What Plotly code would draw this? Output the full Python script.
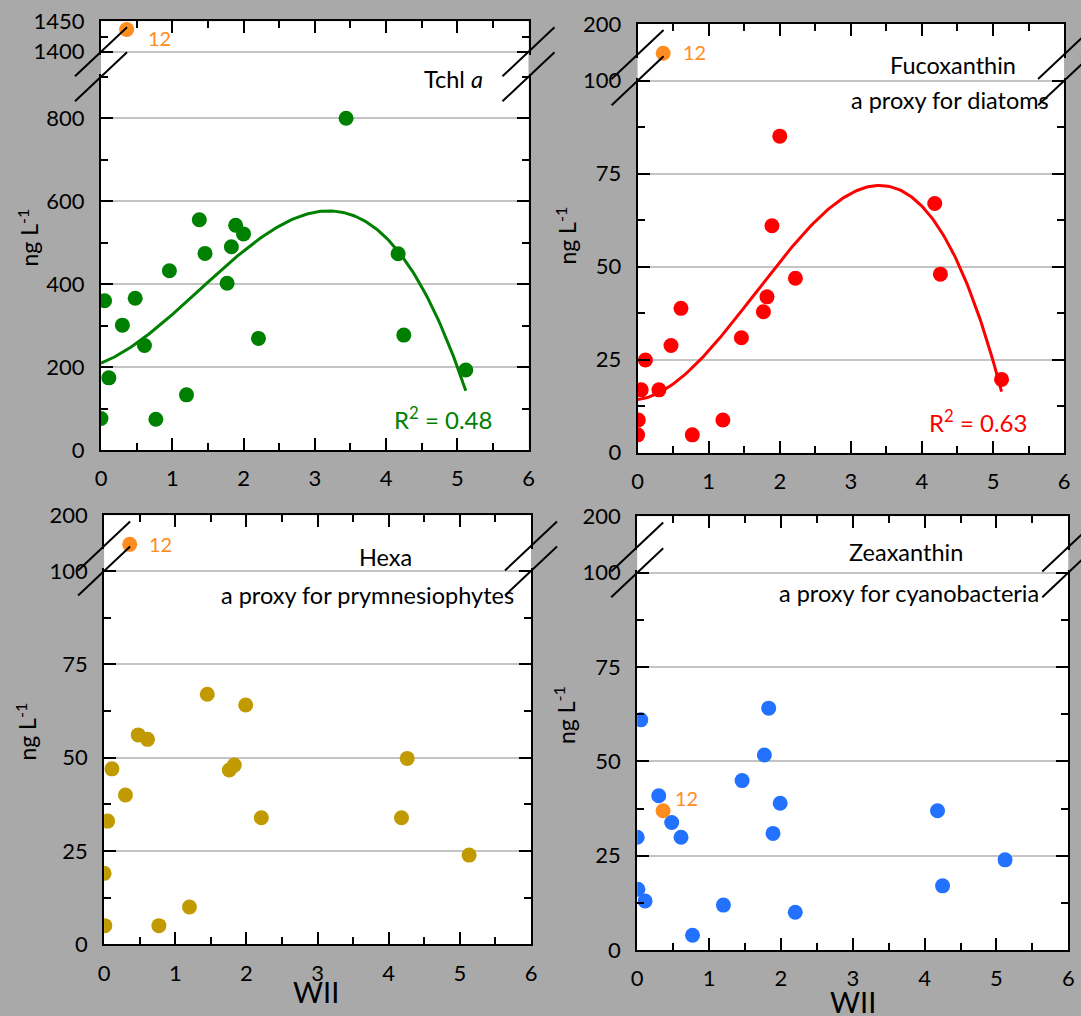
import numpy as np
import plotly.graph_objects as go

W, H = 1081, 1016
FONT = "Lato"
GRAY = "#a9a9a9"
GRID = "#c4c4c4"

GREEN = "#008000"
RED = "#ff0000"
GOLD = "#c09a00"
BLUE = "#2272ff"
ORANGE = "#ff8c1f"

# ---- pigment concentrations (ng/L) against WII ----
tchl_wii = [0.00, 0.05, 0.11, 0.30, 0.48, 0.61, 0.77, 0.96, 1.20, 1.38,
            1.46, 1.77, 1.83, 1.89, 2.00, 2.21, 3.44, 4.17, 4.25, 5.12]
tchl_val = [76, 360, 174, 301, 366, 252, 74, 432, 133, 555,
            474, 402, 490, 542, 521, 269, 800, 473, 277, 193]

fuco_wii = [0.00, 0.01, 0.05, 0.11, 0.30, 0.47, 0.61, 0.77, 1.20, 1.46,
            1.77, 1.82, 1.89, 2.00, 2.22, 4.18, 4.26, 5.12]
fuco_val = [4.8, 8.8, 16.9, 24.9, 16.9, 28.8, 38.8, 4.8, 8.8, 30.9,
            37.9, 41.9, 61.0, 85.1, 46.9, 67.0, 48.0, 19.7]

hexa_wii = [0.00, 0.01, 0.05, 0.11, 0.30, 0.48, 0.61, 0.77, 1.20, 1.45,
            1.76, 1.83, 1.99, 2.21, 4.18, 4.26, 5.13]
hexa_val = [19.0, 5.0, 33.0, 47.0, 40.0, 56.1, 54.9, 5.0, 10.0, 67.0,
            46.7, 48.0, 64.1, 33.9, 33.9, 49.8, 23.9]

zea_wii = [0.00, 0.01, 0.05, 0.11, 0.30, 0.48, 0.61, 0.77, 1.20, 1.46,
           1.77, 1.83, 1.89, 1.99, 2.20, 4.18, 4.25, 5.12]
zea_val = [29.9, 16.1, 61.0, 13.0, 40.9, 33.8, 29.9, 3.9, 11.9, 44.9,
           51.7, 64.1, 30.9, 38.9, 10.0, 36.9, 17.0, 23.9]

# station 12, highlighted separately
st12_wii = 0.36
st12_tchl = 1437
st12_fuco = 104
st12_hexa = 105.5
st12_zea = 36.9

x_ticks = [0, 1, 2, 3, 4, 5, 6]


def fx(p):
    return p / W


def fy(p):
    return 1 - p / H


# panel frames in pixels: left, right, top, bottom of upper segment,
# top of lower segment, bottom
panels = [
    dict(wii=tchl_wii, val=tchl_val, color=GREEN,
         st12=st12_tchl, st12_upper=True, lbl_shift=(19, -8.7),
         x0=101, x1=528.5, top=21.7, ub=51.7, lt=76.7, bot=450,
         low_range=[0, 900], low_dtick=200, low_minor=100,
         up_range=[1400, 1450], up_ticks=[1400, 1450], up_minor=[1425], up_grid=True,
         fit=True, r2="R<sup>2</sup> = 0.48", r2_pos=(494.4, 435.5),
         title=["Tchl <i>a</i>"], title_pos=[(485, 79, "right")],
         ylab=(28, 237.5), xlab=None),
    dict(wii=fuco_wii, val=fuco_val, color=RED,
         st12=st12_fuco, st12_upper=True, lbl_shift=(17.6, 0.8),
         x0=637.6, x1=1064.1, top=24, ub=54.5, lt=80.7, bot=452.7,
         low_range=[0, 100], low_dtick=25, low_minor=12.5,
         up_range=[100, 200], up_ticks=[200], up_minor=[], up_grid=False,
         fit=True, r2="R<sup>2</sup> = 0.63", r2_pos=(1029, 438.8),
         title=["Fucoxanthin", "a proxy for diatoms"],
         title_pos=[(953, 65, "center"), (950, 100, "center")],
         ylab=(565.6, 236), xlab=None),
    dict(wii=hexa_wii, val=hexa_val, color=GOLD,
         st12=st12_hexa, st12_upper=True, lbl_shift=(17, 0.3),
         x0=104.1, x1=531, top=515.7, ub=546, lt=571, bot=944.3,
         low_range=[0, 100], low_dtick=25, low_minor=12.5,
         up_range=[100, 200], up_ticks=[200], up_minor=[], up_grid=False,
         fit=False,
         title=["Hexa", "a proxy for prymnesiophytes"],
         title_pos=[(385, 556.7, "center"), (367, 594.8, "center")],
         ylab=(25.6, 732), xlab=(316, 991.7)),
    dict(wii=zea_wii, val=zea_val, color=BLUE,
         st12=st12_zea, st12_upper=False, lbl_shift=(9.7, 12.7),
         x0=637.2, x1=1068.3, top=516.7, ub=547, lt=572.7, bot=950,
         low_range=[0, 100], low_dtick=25, low_minor=12.5,
         up_range=[100, 200], up_ticks=[200], up_minor=[], up_grid=False,
         fit=False,
         title=["Zeaxanthin", "a proxy for cyanobacteria"],
         title_pos=[(905.5, 551.7, "center"), (908.6, 592.5, "center")],
         ylab=(564, 715), xlab=(853, 1001)),
]

EXT = 3  # px of extra axis range so the edge gridlines are kept

fig = go.Figure()
layout = dict(
    width=W, height=H,
    margin=dict(l=0, r=0, t=0, b=0, autoexpand=False),
    paper_bgcolor=GRAY, plot_bgcolor="white",
    showlegend=False,
    font=dict(family=FONT, size=22, color="black"),
)
shapes = []
annotations = []

axis_common = dict(
    showline=True, linecolor="black", linewidth=2,
    ticks="inside", ticklen=12, tickwidth=2, tickcolor="black",
    zeroline=False, automargin=False,
    tickfont=dict(family=FONT, size=22, color="black"),
)
minor_common = dict(ticks="inside", ticklen=7, tickwidth=2, tickcolor="black", showgrid=False)

for i, p in enumerate(panels):
    nl = 2 * i + 1
    nu = 2 * i + 2
    xl = "x" if nl == 1 else f"x{nl}"
    yl = "y" if nl == 1 else f"y{nl}"
    xu, yu = f"x{nu}", f"y{nu}"
    xdom = [fx(p["x0"]), fx(p["x1"])]

    lo0, lo1 = p["low_range"]
    low_ppu = (p["bot"] - p["lt"]) / (lo1 - lo0)
    up0, up1 = p["up_range"]
    up_ppu = (p["ub"] - p["top"]) / (up1 - up0)

    # bottom x axis (with labels) anchored to the lower segment
    layout["xaxis" if nl == 1 else f"xaxis{nl}"] = dict(
        axis_common, domain=xdom, anchor=yl, range=[0, 6],
        tickmode="array", tickvals=x_ticks, ticktext=[str(v) for v in x_ticks],
        minor=dict(minor_common, tickmode="linear", tick0=0, dtick=0.5),
        showgrid=False, mirror=False, ticklabelstandoff=8,
    )
    # lower y segment
    layout["yaxis" if nl == 1 else f"yaxis{nl}"] = dict(
        axis_common, domain=[fy(p["bot"]), fy(p["lt"] - EXT)], anchor=xl,
        range=[lo0, lo1 + EXT / low_ppu], tickmode="linear", tick0=0, dtick=p["low_dtick"],
        minor=dict(minor_common, tickmode="linear", tick0=0, dtick=p["low_minor"]),
        showgrid=True, gridcolor=GRID, gridwidth=2, mirror="ticks",
        ticklabelstandoff=10,
    )
    # top x axis (frame only) anchored to the upper segment
    layout[f"xaxis{nu}"] = dict(
        axis_common, domain=xdom, anchor=yu, side="top", range=[0, 6],
        tickmode="array", tickvals=x_ticks, showticklabels=False,
        minor=dict(minor_common, tickmode="linear", tick0=0, dtick=0.5),
        showgrid=False, mirror=False,
    )
    # upper y segment (top end padded by a hair so its end tick label is kept)
    layout[f"yaxis{nu}"] = dict(
        axis_common, domain=[fy(p["ub"] + EXT), fy(p["top"] - 0.5)], anchor=xu,
        range=[up0 - EXT / up_ppu, up1 + 0.5 / up_ppu], tickmode="array",
        tickvals=p["up_ticks"], ticktext=[str(v) for v in p["up_ticks"]],
        minor=dict(minor_common, tickmode="array", tickvals=p["up_minor"]) if p["up_minor"] else dict(ticks=""),
        showgrid=p["up_grid"], gridcolor=GRID, gridwidth=2, mirror="ticks",
        ticklabelstandoff=10,
    )

    # white panel background spanning the axis break
    shapes.append(dict(type="rect", xref="paper", yref="paper",
                       x0=xdom[0], x1=xdom[1], y0=fy(p["bot"]), y1=fy(p["top"]),
                       fillcolor="white", line=dict(width=0), layer="below"))
    # break marks on both sides
    for side_px in (p["x0"], p["x1"]):
        for cy in (p["ub"], p["lt"]):
            shapes.append(dict(type="line", xref="paper", yref="paper",
                               x0=fx(side_px - 26), y0=fy(cy + 24.5),
                               x1=fx(side_px + 26), y1=fy(cy - 24.5),
                               line=dict(color="black", width=2), layer="above"))

    # the upper segment always gets its own subplot, even when nothing lands in it
    fig.add_trace(go.Scatter(x=[], y=[], mode="markers", xaxis=xu, yaxis=yu,
                             hoverinfo="skip", showlegend=False))

    # cubic trend line
    if p["fit"]:
        coef = np.polyfit(p["wii"], p["val"], 3)
        xs = np.linspace(min(p["wii"]), max(p["wii"]), 200)
        fig.add_trace(go.Scatter(x=xs, y=np.polyval(coef, xs), mode="lines",
                                 xaxis=xl, yaxis=yl, hoverinfo="skip",
                                 line=dict(color=p["color"], width=3)))
        annotations.append(dict(text=p["r2"], xref="paper", yref="paper",
                                x=fx(p["r2_pos"][0]), y=fy(p["r2_pos"][1]),
                                xanchor="right", yanchor="bottom", showarrow=False,
                                font=dict(family=FONT, size=24, color=p["color"])))

    fig.add_trace(go.Scatter(x=p["wii"], y=p["val"], mode="markers", xaxis=xl, yaxis=yl,
                             marker=dict(color=p["color"], size=15, line=dict(width=0))))

    sx, sy = (xu, yu) if p["st12_upper"] else (xl, yl)
    fig.add_trace(go.Scatter(x=[st12_wii], y=[p["st12"]], mode="markers", xaxis=sx, yaxis=sy,
                             cliponaxis=False,
                             marker=dict(color=ORANGE, size=15, line=dict(width=0))))
    annotations.append(dict(text="12", xref=sx, yref=sy, x=st12_wii, y=p["st12"],
                            xanchor="left", yanchor="middle", showarrow=False,
                            xshift=p["lbl_shift"][0], yshift=p["lbl_shift"][1],
                            font=dict(family=FONT, size=20, color=ORANGE)))

    for txt, (tx, ty, anc) in zip(p["title"], p["title_pos"]):
        annotations.append(dict(text=txt, xref="paper", yref="paper", x=fx(tx), y=fy(ty),
                                xanchor=anc, yanchor="middle", showarrow=False,
                                font=dict(family=FONT, size=23.5, color="black")))

    annotations.append(dict(text="ng L<sup>-1</sup>", xref="paper", yref="paper",
                            x=fx(p["ylab"][0]), y=fy(p["ylab"][1]), textangle=-90,
                            xanchor="center", yanchor="middle", showarrow=False,
                            font=dict(family=FONT, size=23, color="black")))
    if p["xlab"]:
        annotations.append(dict(text="WII", xref="paper", yref="paper",
                                x=fx(p["xlab"][0]), y=fy(p["xlab"][1]),
                                xanchor="center", yanchor="middle", showarrow=False,
                                font=dict(family=FONT, size=29, color="black")))

layout["shapes"] = shapes
layout["annotations"] = annotations
fig.update_layout(**layout)
fig.write_html("out.html")
